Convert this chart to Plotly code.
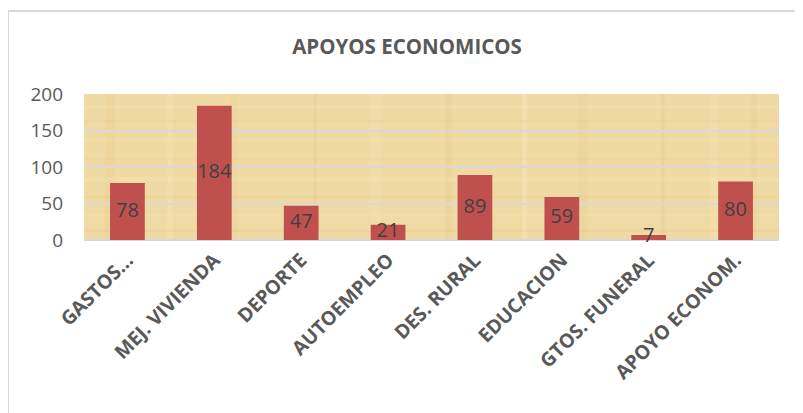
import base64
import plotly.graph_objects as go

categories = ["GASTOS...", "MEJ. VIVIENDA", "DEPORTE", "AUTOEMPLEO", "DES. RURAL",
              "EDUCACION", "GTOS. FUNERAL", "APOYO ECONOM."]
values = [78, 184, 47, 21, 89, 59, 7, 80]
y_ticks = [0, 50, 100, 150, 200]
title_text = "APOYOS ECONOMICOS"

# page has an 8px body margin, so the figure is drawn from (8, 8)
OFF = 8
W, H = 803 - OFF, 413 - OFF
L, R, T, B = 84 - OFF, 24, 94 - OFF, 413 - 240
pw, ph = W - L - R, H - T - B

# parchment-like texture (decorative only)
tex_v = [(3, 6, "#d9b874", 0.14), (12, 3, "#f7e8bf", 0.35), (21, 5, "#dcbc78", 0.12),
         (33, 2, "#c9a560", 0.12), (41, 7, "#f6e6ba", 0.3), (52, 4, "#d4b26c", 0.14),
         (63, 3, "#f8ebc6", 0.35), (71, 6, "#d8b772", 0.12), (83, 2, "#c9a45f", 0.12),
         (90, 5, "#f5e4b6", 0.3), (96, 3, "#d6b46f", 0.14)]
tex_h = [(8, 4, "#f7e9c2", 0.3), (18, 3, "#d7b571", 0.12), (30, 5, "#f5e5b8", 0.28),
         (44, 2, "#cfad68", 0.12), (57, 6, "#f7e8c0", 0.28), (70, 3, "#d5b36e", 0.12),
         (82, 4, "#f6e7bc", 0.28), (93, 3, "#d2b06b", 0.12)]
svg = ['<svg xmlns="http://www.w3.org/2000/svg" width="100" height="100" '
       'viewBox="0 0 100 100" preserveAspectRatio="none">',
       '<rect width="100" height="100" fill="#f0daa4"/>']
for x, w, c, o in tex_v:
    svg.append(f'<rect x="{x}" y="0" width="{w/4:.2f}" height="100" fill="{c}" opacity="{o}"/>')
for y, h, c, o in tex_h:
    svg.append(f'<rect x="0" y="{y}" width="100" height="{h/2:.2f}" fill="{c}" opacity="{o}"/>')
svg.append('</svg>')
tex_uri = "data:image/svg+xml;base64," + base64.b64encode("".join(svg).encode()).decode()

fig = go.Figure()
fig.add_trace(go.Bar(
    x=categories, y=values, width=0.4,
    marker=dict(color="#c0504d", line=dict(width=0)),
    hoverinfo="x+y", showlegend=False,
))
fig.add_trace(go.Scatter(
    x=categories, y=[v / 2 for v in values], mode="text",
    text=[str(v) for v in values], textposition="middle center",
    textfont=dict(family="Open Sans", size=20, color="#404040"),
    cliponaxis=False, showlegend=False, hoverinfo="skip",
))

# outer chart border
fig.add_shape(type="rect", xref="paper", yref="paper",
              x0=(8 - 84) / pw, x1=(803 + 30 - 84) / pw,
              y0=(240 - 440) / ph, y1=(240 - 11) / ph,
              line=dict(color="#d9d9d9", width=2), fillcolor="rgba(0,0,0,0)", layer="below")

fig.add_layout_image(dict(source=tex_uri, xref="paper", yref="paper", x=0, y=1,
                          sizex=1, sizey=1, xanchor="left", yanchor="top",
                          sizing="stretch", layer="below", opacity=1))

fig.update_layout(
    width=W, height=H,
    margin=dict(l=L, r=R, t=T, b=B, autoexpand=False),
    paper_bgcolor="white",
    plot_bgcolor="#f0daa4",
    font=dict(family="Open Sans", color="#595959"),
    title=dict(text="<b>" + title_text + "</b>", x=(407 - OFF) / W, xanchor="center",
               y=1 - (47 - OFF) / H, yanchor="middle",
               font=dict(family="Open Sans", size=20.5, color="#595959")),
    bargap=0.6,
    xaxis=dict(
        tickangle=-45, tickfont=dict(family="Open Sans", size=19.5, color="#595959", weight="bold"),
        showgrid=False, showline=False, ticks="", fixedrange=True, ticklabelstandoff=4,
    ),
    yaxis=dict(
        range=[0, 200], tickvals=y_ticks, ticktext=[str(t) for t in y_ticks],
        tickfont=dict(family="Open Sans", size=19, color="#595959"),
        showgrid=True, gridcolor="#d9d9d9", gridwidth=2,
        zeroline=True, zerolinecolor="#d9d9d9", zerolinewidth=2,
        showline=False, ticks="", ticklabelstandoff=20,
    ),
)

fig.write_html("out.html")
